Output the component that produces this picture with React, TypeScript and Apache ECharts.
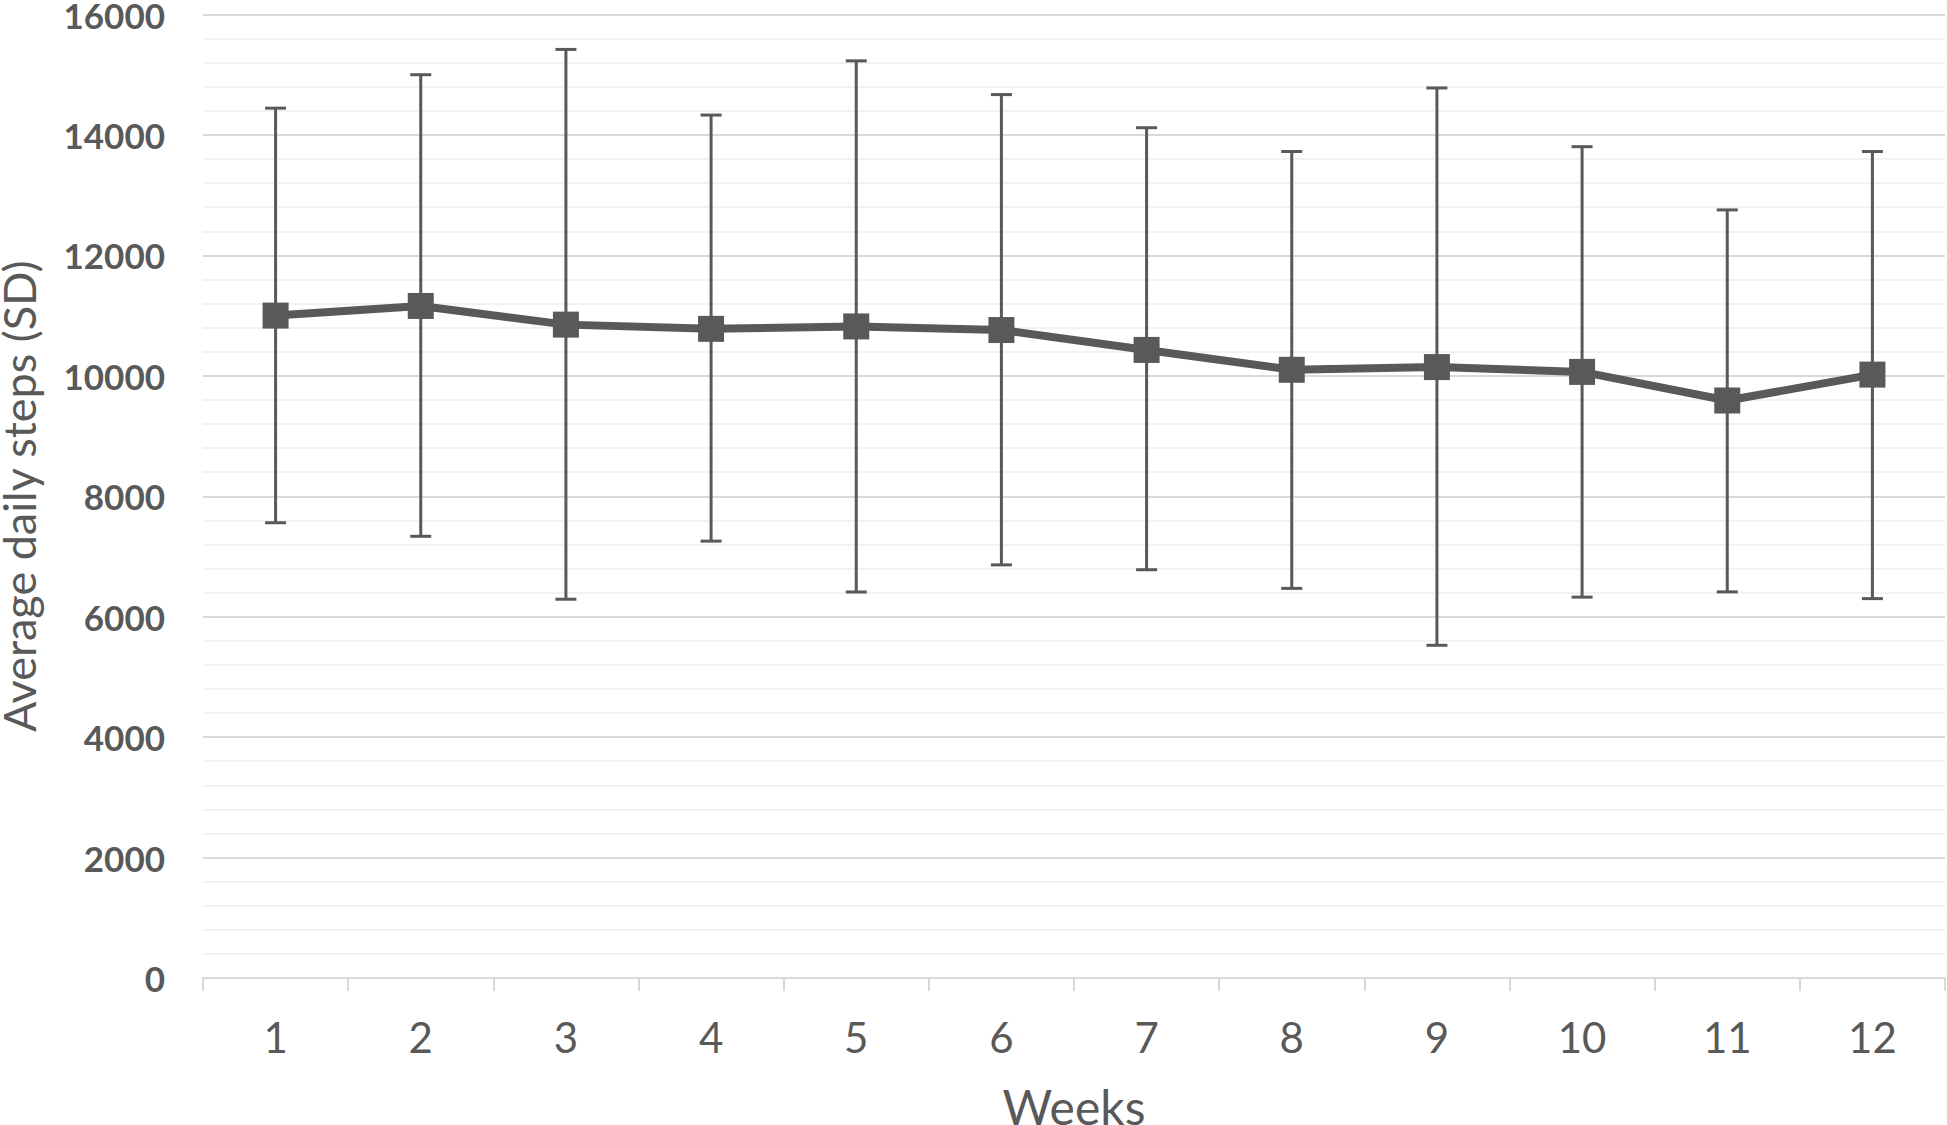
import React, { useEffect, useRef } from "react";
import * as echarts from "echarts";

const weeks = ["1", "2", "3", "4", "5", "6", "7", "8", "9", "10", "11", "12"];
const meanSteps = [11000, 11160, 10850, 10780, 10820, 10760, 10430, 10100, 10145, 10065, 9590, 10020];
const upperSD = [14445, 15000, 15420, 14330, 15230, 14670, 14120, 13725, 14780, 13805, 12755, 13725];
const lowerSD = [7560, 7335, 6290, 7255, 6410, 6860, 6780, 6470, 5525, 6325, 6412, 6300];

const TEXT = "#595959";
const FONT = "Lato, 'Open Sans', sans-serif";

export default function App() {
  const ref = useRef<HTMLDivElement>(null);
  useEffect(() => {
    if (!ref.current) return;
    const chart = echarts.init(ref.current, undefined, { renderer: "svg" });
    const errData = weeks.map((_, i) => [i, lowerSD[i], upperSD[i]]);
    chart.setOption({
      animation: false,
      backgroundColor: "#ffffff",
      grid: {
        left: 203,
        right: 2,
        top: 14.5,
        bottom: 147,
        containLabel: false,
        outerBoundsMode: "none",
      },
      xAxis: {
        type: "category",
        data: weeks,
        boundaryGap: true,
        name: "Weeks",
        nameLocation: "middle",
        nameGap: 104,
        nameTextStyle: { color: TEXT, fontFamily: FONT, fontSize: 48 },
        axisLine: { show: true, lineStyle: { color: "#d9d9d9", width: 2 } },
        axisTick: { show: true, interval: 0, length: 13, lineStyle: { color: "#d9d9d9", width: 2 } },
        axisLabel: { color: TEXT, fontFamily: FONT, fontSize: 42, margin: 38, interval: 0 },
        splitLine: { show: false },
      },
      yAxis: {
        type: "value",
        min: 0,
        max: 16000,
        interval: 2000,
        name: "Average daily steps (SD)",
        nameLocation: "middle",
        nameGap: 162,
        nameTextStyle: { color: TEXT, fontFamily: FONT, fontSize: 45 },
        axisLine: { show: false },
        axisTick: { show: false },
        axisLabel: {
          color: TEXT,
          fontFamily: FONT,
          fontSize: 35,
          fontWeight: "bold",
          margin: 38,
          formatter: (v: number) => String(v),
        },
        splitLine: { show: true, lineStyle: { color: "#d9d9d9", width: 2 } },
        minorTick: { show: false, splitNumber: 5 },
        minorSplitLine: { show: true, lineStyle: { color: "#f2f2f2", width: 2 } },
      },
      series: [
        {
          type: "custom",
          name: "SD",
          data: errData,
          z: 3,
          renderItem: (params: any, api: any) => {
            const x = api.value(0);
            const lo = api.coord([x, api.value(1)]);
            const hi = api.coord([x, api.value(2)]);
            const cap = 10.5;
            const style = { stroke: TEXT, lineWidth: 3 };
            return {
              type: "group",
              children: [
                { type: "line", shape: { x1: lo[0], y1: lo[1], x2: hi[0], y2: hi[1] }, style },
                { type: "line", shape: { x1: lo[0] - cap, y1: lo[1], x2: lo[0] + cap, y2: lo[1] }, style },
                { type: "line", shape: { x1: hi[0] - cap, y1: hi[1], x2: hi[0] + cap, y2: hi[1] }, style },
              ],
            };
          },
        },
        {
          type: "line",
          name: "Mean",
          data: meanSteps,
          z: 4,
          symbol: "rect",
          symbolSize: 26,
          lineStyle: { color: TEXT, width: 8 },
          itemStyle: { color: TEXT },
        },
      ],
    });
    return () => chart.dispose();
  }, []);
  return (
    <div
      ref={ref}
      style={{ position: "fixed", left: 0, top: 0, width: 1947, height: 1125, background: "#fff" }}
    />
  );
}
